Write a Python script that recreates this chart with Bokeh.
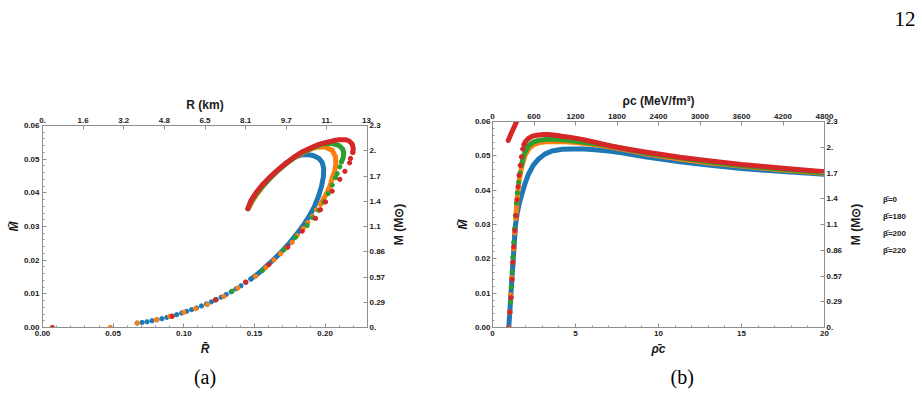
import math

from bokeh.plotting import figure
from bokeh.layouts import column, row
from bokeh.models import FixedTicker, Label, Legend, LegendItem, LinearAxis, Range1d
from bokeh.embed import file_html
from bokeh.resources import INLINE

BLUE, ORANGE, GREEN, RED = "#1f77b4", "#ff7f0e", "#2ca02c", "#d62728"
SERIES_COLORS = [BLUE, ORANGE, GREEN, RED]
SERIES_LABELS = ["\u03b2\u0304=0", "\u03b2\u0304=180", "\u03b2\u0304=200", "\u03b2\u0304=220"]

# ---------------- (a) mass-radius sequences: R-bar, M-bar ----------------
# beta = 0
r0_dots = [0.067, 0.0705, 0.074, 0.0775, 0.081, 0.0845, 0.088, 0.0915, 0.095, 0.0985, 0.102, 0.1055,
           0.109, 0.1125, 0.116, 0.1195, 0.123, 0.1265, 0.130, 0.1335, 0.137, 0.1405, 0.144, 0.1475]
m0_dots = [0.0013, 0.0015, 0.0017, 0.0020, 0.0023, 0.0026, 0.0030, 0.0034, 0.0038, 0.0043, 0.0048, 0.0053,
           0.0058, 0.0064, 0.0070, 0.0076, 0.0083, 0.0090, 0.0098, 0.0106, 0.0115, 0.0124, 0.0134, 0.0144]
r0_line = [0.1475, 0.151, 0.155, 0.160, 0.165, 0.170, 0.175, 0.180, 0.185, 0.189, 0.1925, 0.1955, 0.1975,
           0.1988, 0.1990, 0.1980, 0.1955, 0.1915, 0.1873, 0.1830, 0.1790, 0.1720, 0.1650, 0.1580, 0.1520,
           0.1480, 0.1455]
m0_line = [0.0144, 0.0155, 0.0169, 0.0188, 0.0208, 0.0229, 0.0252, 0.0278, 0.0306, 0.0332, 0.0360, 0.0392,
           0.0420, 0.0448, 0.0472, 0.0490, 0.0503, 0.0511, 0.0514, 0.0512, 0.0507, 0.0487, 0.0462, 0.0432,
           0.0402, 0.0377, 0.0353]

# beta = 180
r180_dots = [0.048, 0.067, 0.0807, 0.090, 0.100, 0.1083, 0.1166, 0.1283, 0.1382, 0.1507, 0.1580, 0.1637,
             0.1684, 0.1730, 0.1767, 0.1802, 0.1845, 0.1878, 0.1910, 0.1940, 0.1968]
m180_dots = [0.0, 0.0013, 0.0023, 0.0033, 0.0045, 0.0056, 0.0068, 0.0092, 0.0117, 0.0152, 0.0178, 0.0201,
             0.0219, 0.0237, 0.0253, 0.0273, 0.0294, 0.0312, 0.0330, 0.0350, 0.0366]
r180_line = [0.1968, 0.1992, 0.2015, 0.2035, 0.2050, 0.2068, 0.2076, 0.2074, 0.2050, 0.1991, 0.1930,
             0.1860, 0.1780, 0.1700, 0.1620, 0.1550, 0.1490, 0.1455]
m180_line = [0.0366, 0.0384, 0.0402, 0.0422, 0.0443, 0.0465, 0.0485, 0.0507, 0.0527, 0.0537, 0.0535,
             0.0523, 0.0504, 0.0479, 0.0449, 0.0415, 0.0379, 0.0353]

# beta = 200
r200_dots = [0.1224, 0.1342, 0.1555, 0.1708, 0.1790, 0.1873, 0.1913, 0.1956, 0.1991, 0.2022, 0.2050,
             0.2074, 0.2085, 0.2104, 0.2116]
m200_dots = [0.0082, 0.0108, 0.0169, 0.0231, 0.0268, 0.0303, 0.0326, 0.0348, 0.0373, 0.0398, 0.0423,
             0.0445, 0.0457, 0.0477, 0.0492]
r200_line = [0.2116, 0.2128, 0.2132, 0.2125, 0.2100, 0.2050, 0.1980, 0.1900, 0.1820, 0.1740, 0.1660,
             0.1580, 0.1510, 0.1470, 0.1455]
m200_line = [0.0492, 0.0505, 0.0518, 0.0530, 0.0540, 0.0547, 0.0545, 0.0532, 0.0516, 0.0492, 0.0464,
             0.0430, 0.0395, 0.0369, 0.0353]

# beta = 220
r220_dots = [0.007, 0.0918, 0.1224, 0.1437, 0.1602, 0.1736, 0.1838, 0.1932, 0.1967, 0.2003, 0.2050,
             0.2104, 0.2140, 0.2173, 0.2180, 0.2196]
m220_dots = [0.0, 0.0033, 0.0082, 0.0135, 0.0187, 0.0239, 0.0286, 0.0324, 0.0350, 0.0373, 0.0405,
             0.0440, 0.0464, 0.0489, 0.0502, 0.0520]
r220_line = [0.2196, 0.2199, 0.2192, 0.2170, 0.2144, 0.2100, 0.2074, 0.2000, 0.1956, 0.1900, 0.1838,
             0.1780, 0.1720, 0.1660, 0.1600, 0.1550, 0.1510, 0.1475, 0.1453]
m220_line = [0.0520, 0.0532, 0.0545, 0.0554, 0.0558, 0.0558, 0.0556, 0.0549, 0.0544, 0.0534, 0.0522,
             0.0506, 0.0487, 0.0466, 0.0443, 0.0421, 0.0400, 0.0377, 0.0353]

# ---------------- (b) mass vs central density: rho-bar_c, M-bar ----------------
rho0_dots = [0.98, 1.04, 1.10, 1.16, 1.22, 1.28, 1.34]
mb0_dots = [0.0, 0.0045, 0.0090, 0.0136, 0.0182, 0.0228, 0.0268]
rho0_line = [0.98, 1.05, 1.12, 1.18, 1.25, 1.32, 1.38, 1.50, 1.62, 1.78, 1.95, 2.18, 2.45, 2.78, 3.15,
             3.58, 4.20, 4.79, 5.50, 6.19, 7.00, 7.79, 9.19, 11.3, 13.0, 15.0, 17.5, 20.0]
mb0_line = [0.0, 0.0050, 0.0105, 0.0151, 0.0200, 0.0252, 0.0297, 0.0335, 0.0363, 0.0390, 0.0418, 0.0448,
            0.0472, 0.0491, 0.0505, 0.0514, 0.0519, 0.0520, 0.0520, 0.0518, 0.0514, 0.0509, 0.0497, 0.0483,
            0.0473, 0.0463, 0.0454, 0.0446]

rho180_dots = [0.98, 1.04, 1.10, 1.16, 1.22, 1.28, 1.34, 1.40]
mb180_dots = [0.0, 0.0045, 0.0095, 0.0145, 0.0190, 0.0229, 0.0275, 0.0318]
rho180_line = [1.40, 1.48, 1.58, 1.68, 1.78, 1.95, 2.18, 2.45, 2.78, 3.20, 3.78, 4.40, 5.18, 6.20, 7.19,
               8.20, 9.19, 11.3, 13.0, 15.0, 17.5, 20.0]
mb180_line = [0.0318, 0.0375, 0.0420, 0.0450, 0.0472, 0.0500, 0.0520, 0.0532, 0.0538, 0.0541, 0.0542,
              0.0541, 0.0538, 0.0532, 0.0525, 0.0516, 0.0506, 0.0491, 0.0480, 0.0470, 0.0459, 0.0449]

rho200_dots = [1.08, 1.13, 1.18, 1.23, 1.28, 1.33, 1.38, 1.44, 1.50, 1.58, 1.66, 1.74]
mb200_dots = [0.0074, 0.0118, 0.0162, 0.0205, 0.0248, 0.0288, 0.0326, 0.0362, 0.0392, 0.0423, 0.0450, 0.0472]
rho200_line = [1.74, 1.85, 2.0, 2.18, 2.45, 2.78, 3.2, 3.78, 4.4, 5.18, 6.2, 7.19, 8.2, 9.19, 11.3, 13.0,
               15.0, 17.5, 20.0]
mb200_line = [0.0472, 0.0497, 0.0516, 0.0530, 0.0540, 0.0545, 0.0548, 0.0548, 0.0546, 0.0542, 0.0535,
              0.0528, 0.0518, 0.0508, 0.0494, 0.0483, 0.0472, 0.0461, 0.0451]

rho220_dots = [0.98, 1.05, 1.12, 1.18, 1.23, 1.28, 1.35, 1.42, 1.48, 1.54, 1.60, 1.67, 1.74, 1.82, 1.90]
mb220_dots = [0.0, 0.0045, 0.0087, 0.0140, 0.0190, 0.0235, 0.0282, 0.0326, 0.0372, 0.0410, 0.0443,
              0.0472, 0.0497, 0.0520, 0.0533]
rho220_line = [1.90, 1.98, 2.18, 2.45, 2.78, 3.1, 3.38, 3.8, 4.19, 4.8, 5.39, 6.3, 7.19, 8.2, 9.19, 11.3,
               13.0, 15.0, 17.5, 20.0]
mb220_line = [0.0533, 0.0541, 0.0551, 0.0558, 0.0561, 0.0562, 0.0562, 0.0560, 0.0557, 0.0553, 0.0548,
              0.0538, 0.0528, 0.0519, 0.0511, 0.0496, 0.0486, 0.0475, 0.0464, 0.0454]
# unstable low-density branch of the beta = 220 sequence
rho220_branch = [0.95, 1.10, 1.25, 1.40, 1.55]
mb220_branch = [0.0545, 0.0562, 0.0578, 0.0594, 0.0610]

# ---------------- tick labels ----------------
RBAR_TICKS = [0.0, 0.05, 0.10, 0.15, 0.20]
RBAR_LABELS = ["0.00", "0.05", "0.10", "0.15", "0.20"]
MBAR_TICKS = [0.0, 0.01, 0.02, 0.03, 0.04, 0.05, 0.06]
MBAR_LABELS = ["0.00", "0.01", "0.02", "0.03", "0.04", "0.05", "0.06"]
RHOBAR_TICKS = [0, 5, 10, 15, 20]
RHOBAR_LABELS = ["0", "5", "10", "15", "20"]
R_KM_LABELS = ["0.", "1.6", "3.2", "4.8", "6.5", "8.1", "9.7", "11.", "13."]
M_SUN_LABELS = ["0.", "0.29", "0.57", "0.86", "1.1", "1.4", "1.7", "2.", "2.3"]
RHO_MEV_LABELS = ["0", "600", "1200", "1800", "2400", "3000", "3600", "4200", "4800"]

R_MAX, M_MAX, RHO_MAX = 0.23, 0.06, 20.0

AX_GRAY = "#8f8f8f"
INK = "#1a1a1a"
SANS = "Liberation Sans"
SERIF = "Liberation Serif"
DOT = 4.3
LW = 5.0
FRAME_BOTTOM = 327          # page row of the plot frames' lower edge
M_SUN_NAME = "M (M\u2299)"


def add_axis(p, side, ticks, labels, minor=(), name=None, name_style="bold", name_size="12px",
             name_standoff=3, label_standoff=3):
    ax = LinearAxis(ticker=FixedTicker(ticks=list(ticks), minor_ticks=list(minor)),
                    major_label_overrides={t: s for t, s in zip(ticks, labels)})
    ax.axis_line_color = AX_GRAY
    ax.major_tick_line_color = AX_GRAY
    ax.minor_tick_line_color = AX_GRAY
    ax.major_tick_in = 4
    ax.major_tick_out = 0
    ax.minor_tick_in = 2
    ax.minor_tick_out = 0
    ax.major_label_standoff = label_standoff
    ax.major_label_text_font = SANS
    ax.major_label_text_font_style = "bold"
    ax.major_label_text_font_size = "8px"
    ax.major_label_text_color = INK
    if name:
        ax.axis_label = name
        ax.axis_label_text_font = SANS
        ax.axis_label_text_font_style = name_style
        ax.axis_label_text_font_size = name_size
        ax.axis_label_text_color = INK
        ax.axis_label_standoff = name_standoff
    p.add_layout(ax, side)
    return ax


def bare(p):
    for g in p.grid:
        g.visible = False
    p.background_fill_color = "white"
    p.border_fill_color = "white"
    return p


def make_panel(width, x_end, y_end, left, right, top, bottom, **kw):
    p = figure(width=width, height=417, x_range=Range1d(0, x_end), y_range=Range1d(0, y_end),
               output_backend="svg", toolbar_location=None,
               x_axis_location=None, y_axis_location=None,
               min_border_left=left, min_border_right=right,
               min_border_top=top, min_border_bottom=bottom, **kw)
    bare(p)
    p.outline_line_color = AX_GRAY
    return p


def make_strip(width):
    """A narrow text-only canvas placed beside a panel."""
    p = figure(width=width, height=417, x_range=Range1d(0, 1), y_range=Range1d(0, 1),
               output_backend="svg", toolbar_location=None,
               x_axis_location=None, y_axis_location=None,
               min_border_left=0, min_border_right=0, min_border_top=0, min_border_bottom=0)
    bare(p)
    p.outline_line_color = None
    return p


def upright_label(p, x, page_y, text):
    """Vertical axis name reading from bottom to top."""
    p.add_layout(Label(x=x, y=FRAME_BOTTOM - page_y, x_units="screen", y_units="screen",
                       text=text, angle=math.pi / 2, text_font=SANS, text_font_size="12px",
                       text_font_style="bold", text_align="center", text_baseline="middle",
                       text_color=INK))


def style_title(t, size, align="center", offset=0, standoff=10):
    t.text_font = SERIF
    t.text_font_size = size
    t.text_font_style = "normal"
    t.text_color = "black"
    t.align = align
    t.offset = offset
    t.standoff = standoff


def draw(p, xd, yd, xl, yl, color):
    p.scatter(xd, yd, size=DOT, color=color, marker="circle")
    p.line(xl, yl, line_width=LW, color=color, line_cap="round", line_join="round")


# ====================== panel (a): page x 0-388 ======================
pa = make_panel(388, R_MAX, M_MAX, left=42, right=21, top=125, bottom=90,
                title="(a)", title_location="below")
style_title(pa.title, "20px", align="center", standoff=10)
add_axis(pa, "below", RBAR_TICKS, RBAR_LABELS, minor=[0.01 * i for i in range(24)],
         name="R\u0304", name_style="bold italic", name_standoff=3)
add_axis(pa, "left", MBAR_TICKS, MBAR_LABELS, minor=[0.002 * i for i in range(31)],
         name="M\u0304", name_style="bold italic", name_standoff=0)
add_axis(pa, "above", [R_MAX * k / 8 for k in range(9)], R_KM_LABELS,
         name="R (km)", name_standoff=3)
add_axis(pa, "right", [M_MAX * k / 8 for k in range(9)], M_SUN_LABELS, label_standoff=2)

draw(pa, r0_dots, m0_dots, r0_line, m0_line, BLUE)
draw(pa, r180_dots, m180_dots, r180_line, m180_line, ORANGE)
draw(pa, r200_dots, m200_dots, r200_line, m200_line, GREEN)
draw(pa, r220_dots, m220_dots, r220_line, m220_line, RED)

# right-hand axis name of (a): page x 388-410
sa = make_strip(22)
upright_label(sa, 10, 224, M_SUN_NAME)

# ====================== panel (b): page x 410-845 ======================
pb = make_panel(435, RHO_MAX, M_MAX, left=82, right=20, top=121, bottom=90,
                title="(b)", title_location="below")
style_title(pb.title, "20px", align="left", offset=178, standoff=10)
add_axis(pb, "below", RHOBAR_TICKS, RHOBAR_LABELS, minor=list(range(21)),
         name="\u03c1\u0304c", name_style="bold italic", name_standoff=3)
add_axis(pb, "left", MBAR_TICKS, MBAR_LABELS, minor=[0.002 * i for i in range(31)],
         name="M\u0304", name_style="bold italic", name_standoff=2, label_standoff=2)
add_axis(pb, "above", [RHO_MAX * k / 8 for k in range(9)], RHO_MEV_LABELS,
         name="\u03c1c (MeV/fm\u00b3)", name_standoff=3)
add_axis(pb, "right", [M_MAX * k / 8 for k in range(9)], M_SUN_LABELS, label_standoff=2)

draw(pb, rho0_dots, mb0_dots, rho0_line, mb0_line, BLUE)
draw(pb, rho180_dots, mb180_dots, rho180_line, mb180_line, ORANGE)
draw(pb, rho200_dots, mb200_dots, rho200_line, mb200_line, GREEN)
draw(pb, rho220_dots, mb220_dots, rho220_line, mb220_line, RED)
pb.line(rho220_branch, mb220_branch, line_width=LW, color=RED, line_cap="round", line_join="round")

# ====================== axis name, legend and page number: page x 845-922 ======================
pk = make_strip(77)
upright_label(pk, 10, 224, M_SUN_NAME)

keys = [pk.scatter(x=[], y=[], size=5, color=c, marker="circle") for c in SERIES_COLORS]
legend = Legend(items=[LegendItem(label=s, renderers=[r]) for s, r in zip(SERIES_LABELS, keys)],
                location=(22, 68), orientation="vertical", glyph_width=12, glyph_height=17,
                label_height=17, spacing=0, padding=0, margin=0, label_standoff=4,
                border_line_color=None, background_fill_alpha=0,
                label_text_font=SANS, label_text_font_style="bold", label_text_font_size="8px",
                label_text_color=INK)
pk.add_layout(legend)

# page number, carried by an empty top axis; figure spaces push it to the right edge
folio = LinearAxis(ticker=FixedTicker(ticks=[]), axis_line_color=None,
                   major_tick_line_color=None, minor_tick_line_color=None,
                   major_label_standoff=0, major_tick_in=0, major_tick_out=0,
                   minor_tick_in=0, minor_tick_out=0,
                   axis_label="\u2007\u2007\u2007\u200712", axis_label_standoff=95,
                   axis_label_text_font=SERIF, axis_label_text_font_size="21px",
                   axis_label_text_font_style="normal", axis_label_text_color="black")
pk.add_layout(folio, "above")

# panel (b) sits in its own column so its frame keeps its own top edge
layout = row(pa, sa, column(pb, spacing=0), pk, spacing=0)
with open("out.html", "w") as f:
    f.write(file_html(layout, INLINE))
